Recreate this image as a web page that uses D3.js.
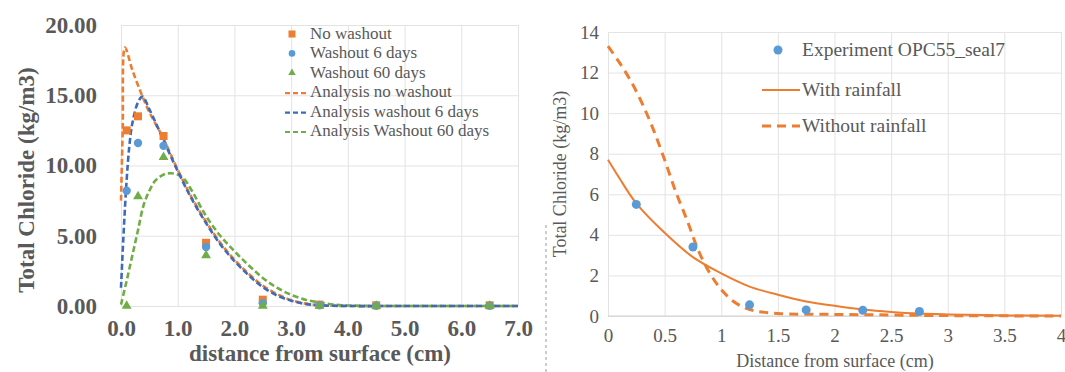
<!DOCTYPE html>
<html><head><meta charset="utf-8">
<script src="https://cdn.jsdelivr.net/npm/d3@7"></script>
<style>html,body{margin:0;padding:0;background:#fff;}svg text{font-family:"Liberation Serif","Times New Roman",serif !important;}</style>
</head><body>
<svg id="c" width="1065" height="372"></svg>
<script>
// ---------- Left panel data ----------
const leftXTicks = [0,1,2,3,4,5,6,7];
const leftYTicks = [0,5,10,15,20];
const expX = [0.1, 0.3, 0.75, 1.5, 2.5, 3.5, 4.5, 6.5];
const noWashout = [12.5, 13.5, 12.1, 4.5, 0.45, 0.1, 0.05, 0.05];
const washout6 = [8.2, 11.6, 11.4, 4.2, 0.2, 0.05, 0.02, 0.02];
const washout60 = [0.0, 7.8, 10.6, 3.6, 0.0, 0.0, 0.0, 0.0];
const anaNoX = [0, 0.03, 0.07, 0.2, 0.37, 0.5, 0.75, 1.0, 1.25, 1.5, 1.75, 2.0, 2.25, 2.5, 2.75, 3.0, 3.25, 3.5, 4.0, 5.0, 6.0, 7.0];
const anaNoY = [7.5, 12.5, 18.4, 16.8, 15.0, 13.8, 11.9, 9.7, 7.7, 6.0, 4.5, 3.3, 2.3, 1.45, 0.85, 0.42, 0.17, 0.06, 0.0, 0.0, 0.0, 0.0];
const ana6X = [0, 0.05, 0.1, 0.15, 0.2, 0.3, 0.38, 0.5, 0.75, 1.0, 1.25, 1.5, 1.75, 2.0, 2.25, 2.5, 2.75, 3.0, 3.25, 3.5, 4.0, 5.0, 6.0, 7.0];
const ana6Y = [1.3, 5.5, 9.0, 11.5, 13.0, 14.5, 14.9, 14.0, 11.8, 9.6, 7.6, 5.9, 4.4, 3.2, 2.2, 1.35, 0.75, 0.38, 0.15, 0.05, 0.0, 0.0, 0.0, 0.0];
const ana60X = [0, 0.1, 0.2, 0.3, 0.4, 0.5, 0.6, 0.75, 0.86, 1.0, 1.1, 1.25, 1.5, 1.75, 2.0, 2.25, 2.5, 2.75, 3.0, 3.25, 3.5, 3.75, 4.0, 4.5, 5.0, 6.0, 7.0];
const ana60Y = [0.1, 1.8, 3.6, 5.4, 7.2, 8.2, 8.9, 9.35, 9.45, 9.35, 9.1, 8.2, 6.4, 5.0, 3.9, 2.9, 2.0, 1.3, 0.8, 0.45, 0.25, 0.1, 0.04, 0.0, 0.0, 0.0, 0.0];
const leftLegend = ["No washout","Washout 6 days","Washout 60 days","Analysis no washout","Analysis washout 6 days","Analysis Washout 60 days"];

// ---------- Right panel data ----------
const rightXTicks = [0,0.5,1,1.5,2,2.5,3,3.5,4];
const rightYTicks = [0,2,4,6,8,10,12,14];
const rExpX = [0.25, 0.75, 1.25, 1.75, 2.25, 2.75];
const rExpY = [5.5, 3.4, 0.55, 0.3, 0.28, 0.22];
const withX = [0, 0.1, 0.25, 0.5, 0.75, 1.0, 1.25, 1.5, 1.75, 2.0, 2.25, 2.5, 2.75, 3.0, 3.5, 4.0];
const withY = [7.7, 6.8, 5.55, 4.1, 2.9, 2.1, 1.45, 1.05, 0.72, 0.5, 0.32, 0.2, 0.12, 0.08, 0.03, 0.01];
const withoutX = [0, 0.1, 0.2, 0.3, 0.4, 0.5, 0.6, 0.7, 0.8, 0.9, 1.0, 1.1, 1.2, 1.3, 1.5, 2.0, 2.5, 3.0, 4.0];
const withoutY = [13.3, 12.5, 11.6, 10.5, 9.2, 7.7, 6.1, 4.7, 3.2, 2.1, 1.3, 0.75, 0.42, 0.25, 0.12, 0.08, 0.05, 0.02, 0.0];
const rightLegend = ["Experiment OPC55_seal7","With rainfall","Without rainfall"];

const C = {orange:"#ED7D31", blue:"#5B9BD5", dblue:"#3E6BB8", green:"#70AD47", text:"#595959", grid:"#E3E3E3"};
const FF = '"Liberation Serif","Times New Roman",serif';
const svg = d3.select("#c");
const zip = (xs, ys) => xs.map((x,i)=>({x, y:ys[i]}));

// ================= LEFT =================
{
  const x = d3.scaleLinear().domain([0,7]).range([121,518]);
  const y = d3.scaleLinear().domain([0,20]).range([306,25]);
  const g = svg.append("g");
  g.append("g").attr("transform","translate(0,306)")
    .call(d3.axisBottom(x).tickValues(leftXTicks).tickSize(-281).tickFormat(d3.format(".1f")).tickPadding(14))
    .call(a=>{a.select(".domain").remove();a.attr("font-family",FF);a.selectAll("line").attr("stroke",C.grid);
      a.selectAll("text").attr("fill",C.text).attr("font-size",23).attr("font-weight","bold");});
  g.append("g").attr("transform","translate(121,0)")
    .call(d3.axisLeft(y).tickValues(leftYTicks).tickSize(-397).tickFormat(d3.format(".2f")).tickPadding(24))
    .call(a=>{a.select(".domain").remove();a.attr("font-family",FF);a.selectAll("line").attr("stroke",C.grid);
      a.selectAll("text").attr("fill",C.text).attr("font-size",23).attr("font-weight","bold");});
  g.append("text").attr("x",320).attr("y",361).attr("text-anchor","middle").attr("fill",C.text)
    .attr("font-size",23).attr("font-weight","bold").text("distance from surface (cm)");
  g.append("text").attr("transform","translate(34,180) rotate(-90)").attr("text-anchor","middle").attr("fill",C.text)
    .attr("font-size",23).attr("font-weight","bold").text("Total Chloride (kg/m3)");
  const line = d3.line().x(d=>x(d.x)).y(d=>y(d.y)).curve(d3.curveCatmullRom.alpha(0.5));
  const lines = [[anaNoX,anaNoY,C.orange],[ana60X,ana60Y,C.green],[ana6X,ana6Y,C.dblue]];
  lines.forEach(([xs,ys,col])=>{
    g.append("path").attr("d",line(zip(xs,ys))).attr("fill","none").attr("stroke",col)
      .attr("stroke-width",2.6).attr("stroke-dasharray","6,3");
  });
  g.append("g").selectAll("rect").data(zip(expX,noWashout)).join("rect")
    .attr("x",d=>x(d.x)-4).attr("y",d=>y(d.y)-4).attr("width",8).attr("height",8).attr("fill",C.orange);
  g.append("g").selectAll("circle").data(zip(expX,washout6)).join("circle")
    .attr("cx",d=>x(d.x)).attr("cy",d=>y(d.y)).attr("r",4.2).attr("fill",C.blue);
  const tri = d3.symbol().type(d3.symbolTriangle).size(42);
  g.append("g").selectAll("path").data(zip(expX,washout60)).join("path")
    .attr("d",tri).attr("transform",d=>`translate(${x(d.x)},${y(d.y)})`).attr("fill",C.green);
  const lg = g.append("g").attr("font-size",17).attr("fill",C.text).attr("font-family",FF);
  const ly0 = 34, lstep = 19.4;
  leftLegend.forEach((t,i)=>{
    const yy = ly0 + i*lstep;
    lg.append("text").attr("x",310).attr("y",yy+5).text(t);
    if(i===0) lg.append("rect").attr("x",292-3.5).attr("y",yy-3.5).attr("width",7).attr("height",7).attr("fill",C.orange);
    if(i===1) lg.append("circle").attr("cx",292).attr("cy",yy).attr("r",3.3).attr("fill",C.blue);
    if(i===2) lg.append("path").attr("d",d3.symbol().type(d3.symbolTriangle).size(24)).attr("transform",`translate(292,${yy})`).attr("fill",C.green);
    if(i>=3){
      const col = [C.orange,C.dblue,C.green][i-3];
      lg.append("line").attr("x1",285).attr("x2",309).attr("y1",yy+1).attr("y2",yy+1)
        .attr("stroke",col).attr("stroke-width",2.2).attr("stroke-dasharray","5,3");
    }
  });
}

svg.append("line").attr("x1",546).attr("x2",546).attr("y1",225).attr("y2",372)
  .attr("stroke","#9a9a9a").attr("stroke-width",1).attr("stroke-dasharray","3,3");

// ================= RIGHT =================
{
  const x = d3.scaleLinear().domain([0,4]).range([608,1061]);
  const y = d3.scaleLinear().domain([0,14]).range([316,32]);
  const g = svg.append("g");
  g.append("g").attr("transform","translate(0,316)")
    .call(d3.axisBottom(x).tickValues(rightXTicks).tickSize(-284).tickFormat(d=>d3.format("")(d)).tickPadding(13))
    .call(a=>{a.select(".domain").remove();a.attr("font-family",FF);a.selectAll("line").attr("stroke",C.grid);
      a.selectAll("text").attr("fill",C.text).attr("font-size",19);});
  g.append("g").attr("transform","translate(608,0)")
    .call(d3.axisLeft(y).tickValues(rightYTicks).tickSize(-453).tickPadding(9))
    .call(a=>{a.select(".domain").remove();a.attr("font-family",FF);a.selectAll("line").attr("stroke",C.grid);
      a.selectAll("text").attr("fill",C.text).attr("font-size",19);});
  g.append("line").attr("x1",608).attr("x2",1061).attr("y1",316).attr("y2",316).attr("stroke","#D0D0D0");
  g.append("text").attr("x",835).attr("y",367).attr("text-anchor","middle").attr("fill",C.text)
    .attr("font-size",18).text("Distance from surface (cm)");
  g.append("text").attr("transform","translate(566,174) rotate(-90)").attr("text-anchor","middle").attr("fill",C.text)
    .attr("font-size",18).text("Total Chloride (kg/m3)");
  const line = d3.line().x(d=>x(d.x)).y(d=>y(d.y)).curve(d3.curveCatmullRom.alpha(0.5));
  g.append("path").attr("d",line(zip(withX,withY))).attr("fill","none").attr("stroke",C.orange).attr("stroke-width",2);
  g.append("path").attr("d",line(zip(withoutX,withoutY))).attr("fill","none").attr("stroke",C.orange)
    .attr("stroke-width",3).attr("stroke-dasharray","9,6");
  g.append("g").selectAll("circle").data(zip(rExpX,rExpY)).join("circle")
    .attr("cx",d=>x(d.x)).attr("cy",d=>y(d.y)).attr("r",4.5).attr("fill",C.blue);
  const lg = g.append("g").attr("font-size",19.5).attr("fill",C.text).attr("font-family",FF);
  const ys = [50, 90, 126];
  rightLegend.forEach((t,i)=>{
    lg.append("text").attr("x",802).attr("y",ys[i]+6).text(t);
  });
  lg.append("circle").attr("cx",778).attr("cy",ys[0]).attr("r",4.5).attr("fill",C.blue);
  lg.append("line").attr("x1",762).attr("x2",800).attr("y1",ys[1]).attr("y2",ys[1]).attr("stroke",C.orange).attr("stroke-width",2);
  lg.append("line").attr("x1",762).attr("x2",800).attr("y1",ys[2]).attr("y2",ys[2]).attr("stroke",C.orange).attr("stroke-width",3).attr("stroke-dasharray","9,6");
}
</script>
</body></html>
